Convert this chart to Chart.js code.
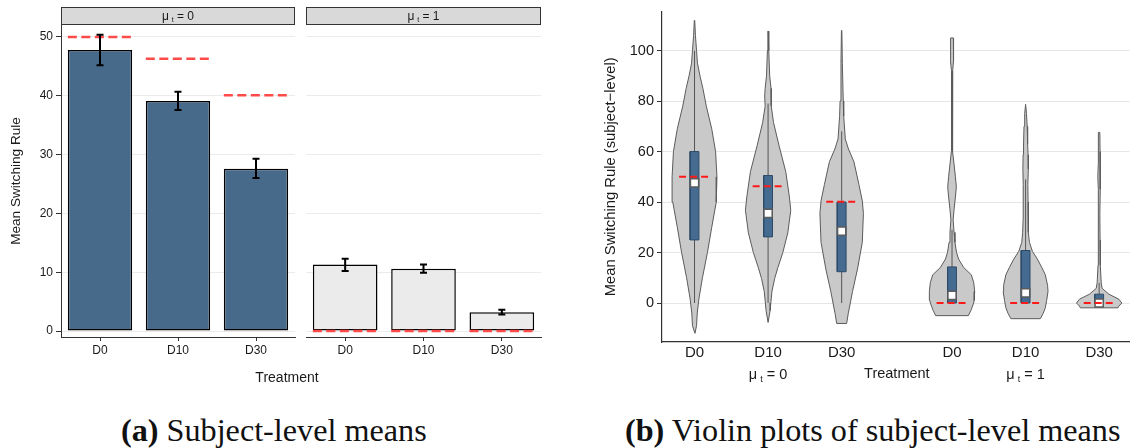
<!DOCTYPE html>
<html>
<head>
<meta charset="utf-8">
<script src="https://cdn.jsdelivr.net/npm/chart.js@4.4.1/dist/chart.umd.min.js"></script>
<style>
  body { margin: 0; background: #fff; width: 1137px; height: 448px; overflow: hidden; position: relative;
         font-family: "Liberation Sans", Arial, sans-serif; color: #1a1a1a; }
  .holder { position: absolute; }
  .xlab { position: absolute; font-size: 14px; transform: translate(-50%, -50%); white-space: nowrap; }
  .cap { position: absolute; top: 414px; font-family: "Liberation Serif", "Times New Roman", serif;
         font-size: 32.2px; line-height: 1; white-space: nowrap; color: #111; }
</style>
</head>
<body>
<div class="holder" style="left:0;top:0;width:300px;height:400px"><canvas id="facet0"></canvas></div>
<div class="holder" style="left:300px;top:0;width:245px;height:400px"><canvas id="facet1"></canvas></div>
<div class="holder" style="left:580px;top:0;width:557px;height:400px"><canvas id="violins"></canvas></div>
<div class="xlab" style="left:287px;top:377px">Treatment</div>
<div class="cap" style="left:121px"><b>(a)</b> Subject-level means</div>
<div class="cap" style="left:625px"><b>(b)</b> Violin plots of subject-level means</div>

<script>
// ---- panel (a): subject-level means ----
const treatments = ['D0', 'D10', 'D30'];
const meanMu0 = [47.8, 39.1, 27.6];
const errLowMu0 = [45.2, 37.6, 26.0];
const errHighMu0 = [50.4, 40.7, 29.3];
const predMu0 = [50, 46.3, 40.1];
const meanMu1 = [11.3, 10.6, 3.2];
const errLowMu1 = [10.2, 9.9, 2.8];
const errHighMu1 = [12.3, 11.3, 3.6];
const predMu1 = [0, 0, 0];
const yTicksA = [0, 10, 20, 30, 40, 50];

// ---- panel (b): violins ----
const violinLabels = ['D0', 'D10', 'D30', 'D0', 'D10', 'D30'];
const violinPos = [1, 2, 3, 4.5, 5.5, 6.5];
const groupLabels = ['0', '1'];      // mu_t value
const groupCenters = [2, 5.5];
const yTicksB = [0, 20, 40, 60, 80, 100];

// y levels and relative density (0..1) of each violin outline
const violinY = [
  [112, 106, 100, 95, 90, 85, 78, 69, 60, 50, 40, 30, 20, 10, 2, -4, -9, -12],
  [107.7, 100, 90, 85, 82, 78, 71.5, 62.5, 52, 42, 36.7, 27.8, 20, 14, 9.7, 4.6, 0, -3, -7.7],
  [108, 95, 80, 74, 65, 61, 56, 47, 40.5, 35.5, 24, 13.5, 4.6, -4.2, -8.1],
  [105, 103, 100, 96, 92, 85, 70, 60, 55, 50, 46, 42, 37, 33, 28, 24, 20, 17.4, 14, 11.2, 8, 4.6, 1, -0.4, -3, -5],
  [78.7, 75, 70, 63, 58.7, 53, 47, 40, 33, 28, 24, 20.5, 17.4, 14, 11.2, 7, 4.6, 1, -1.9, -4, -6.2],
  [67.6, 60, 55, 50, 45, 35, 25, 15, 8, 5.8, 3.5, 1.5, 0, -1.2, -1.9]
];
const violinDensity = [
  [0.01, 0.04, 0.09, 0.13, 0.24, 0.37, 0.52, 0.76, 0.93, 0.99, 0.96, 0.76, 0.57, 0.35, 0.2, 0.12, 0.09, 0.02],
  [0.01, 0.03, 0.07, 0.13, 0.15, 0.13, 0.24, 0.48, 0.78, 0.94, 1, 0.87, 0.65, 0.43, 0.29, 0.17, 0.12, 0.09, 0],
  [0.01, 0.03, 0.07, 0.09, 0.16, 0.3, 0.54, 0.76, 0.91, 0.96, 0.91, 0.7, 0.48, 0.29, 0.22],
  [0.06, 0.06, 0.07, 0.07, 0.03, 0.02, 0.02, 0.03, 0.09, 0.15, 0.19, 0.15, 0.09, 0.05, 0.09, 0.13, 0.2, 0.29, 0.52, 0.85, 0.96, 1, 0.98, 0.94, 0.83, 0.72],
  [0, 0.04, 0.07, 0.09, 0.11, 0.12, 0.1, 0.11, 0.11, 0.13, 0.17, 0.3, 0.52, 0.72, 0.87, 0.97, 0.99, 0.93, 0.87, 0.78, 0.65],
  [0.03, 0.04, 0.04, 0.06, 0.04, 0.03, 0.04, 0.05, 0.09, 0.13, 0.43, 0.87, 1, 0.87, 0.83]
];
const boxQ1 = [25, 26.2, 12.4, 0, 0, -0.3];
const boxQ3 = [60, 50.5, 40, 14.3, 20.8, 3.5];
const medians = [47.6, 35.5, 28.5, 3, 4, 0];
const whiskLow = [0, 0, 0, 0, 0, 0];
const whiskHigh = [100, 79, 68, 29, 49, 8];
const predicted = [50, 46.3, 40.1, 0, 0, 0];

const FONT = '"Liberation Sans", Arial, sans-serif';
Chart.defaults.font.family = FONT;
Chart.defaults.color = '#1a1a1a';

// draws "mu_t = v" centred on (cx, cy)
function drawMu(ctx, value, cx, cy, size) {
  const big = size + 'px ' + FONT, small = Math.round(size * 0.62) + 'px ' + FONT;
  ctx.save();
  ctx.fillStyle = '#1a1a1a';
  ctx.textAlign = 'left';
  ctx.textBaseline = 'alphabetic';
  ctx.font = big;
  const wMu = ctx.measureText('\u03bc').width;
  const rest = ' = ' + value;
  const wRest = ctx.measureText(rest).width;
  ctx.font = small;
  const wSub = ctx.measureText('t').width;
  const gap = size * 0.22;
  let x = cx - (wMu + gap + wSub + wRest) / 2;
  const base = cy + size * 0.36;
  ctx.font = big; ctx.fillText('\u03bc', x, base); x += wMu + gap;
  ctx.font = small; ctx.fillText('t', x, base + size * 0.18); x += wSub;
  ctx.font = big; ctx.fillText(rest, x, base);
  ctx.restore();
}

// error bars, prediction lines and the facet strip
const facetPlugin = {
  id: 'facet',
  afterDatasetsDraw(chart, args, opts) {
    const ctx = chart.ctx, y = chart.scales.y;
    const bars = chart.getDatasetMeta(0).data;
    ctx.save();
    // red dashed predictions
    ctx.strokeStyle = '#ff4a4a';
    ctx.lineWidth = 2.6;
    ctx.setLineDash([9, 4.5]);
    bars.forEach((b, i) => {
      const py = y.getPixelForValue(opts.pred[i]);
      ctx.beginPath();
      ctx.moveTo(b.x - b.width / 2, py);
      ctx.lineTo(b.x + b.width / 2, py);
      ctx.stroke();
    });
    // error bars
    ctx.setLineDash([]);
    ctx.strokeStyle = '#000';
    ctx.lineWidth = 2;
    bars.forEach((b, i) => {
      const lo = y.getPixelForValue(opts.low[i]), hi = y.getPixelForValue(opts.high[i]);
      ctx.beginPath();
      ctx.moveTo(b.x, lo); ctx.lineTo(b.x, hi);
      ctx.moveTo(b.x - 3.5, lo); ctx.lineTo(b.x + 3.5, lo);
      ctx.moveTo(b.x - 3.5, hi); ctx.lineTo(b.x + 3.5, hi);
      ctx.stroke();
    });
    ctx.restore();
  },
  afterDraw(chart, args, opts) {
    const ctx = chart.ctx, a = chart.chartArea;
    ctx.save();
    ctx.fillStyle = '#d9d9d9';
    ctx.strokeStyle = '#333';
    ctx.lineWidth = 1;
    ctx.fillRect(a.left, 7, a.right - a.left, a.top - 7);
    ctx.strokeRect(a.left + 0.5, 7.5, a.right - a.left - 1, a.top - 8);
    ctx.restore();
    drawMu(ctx, opts.mu, (a.left + a.right) / 2, 16, 12);
  }
};

function facetChart(id, means, lows, highs, preds, fill, mu, showY) {
  return new Chart(document.getElementById(id), {
    type: 'bar',
    data: {
      labels: treatments,
      datasets: [{
        data: means,
        backgroundColor: fill,
        borderColor: '#000',
        borderWidth: 1.5,
        borderSkipped: false,
        barPercentage: 0.825,
        categoryPercentage: 1
      }]
    },
    options: {
      animation: false,
      responsive: true,
      maintainAspectRatio: false,
      events: [],
      layout: { padding: { top: 25, right: showY ? 5 : 4, left: showY ? 0 : 6, bottom: 0 } },
      plugins: {
        legend: { display: false },
        tooltip: { enabled: false },
        facet: { low: lows, high: highs, pred: preds, mu: mu }
      },
      scales: {
        x: {
          grid: { display: true, drawOnChartArea: false, offset: false, tickLength: 4, tickColor: '#333' },
          border: { color: '#333', width: 1 },
          ticks: { font: { size: 12 }, color: '#1a1a1a', padding: 2, maxRotation: 0 },
          afterFit: s => { s.height = 63; }
        },
        y: {
          min: -1.02,
          max: 52.04,
          afterBuildTicks: s => { s.ticks = yTicksA.map(v => ({ value: v })); },
          afterFit: s => { s.width = showY ? 61 : 0; },
          border: { display: showY, color: '#333', width: 1 },
          grid: { color: '#ebebeb', lineWidth: 1, drawTicks: showY, tickLength: 5, tickColor: '#333' },
          ticks: { display: showY, font: { size: 12 }, color: '#1a1a1a', padding: 3 },
          title: { display: showY, text: 'Mean Switching Rule', font: { size: 13.6 }, color: '#1a1a1a', padding: { top: 8, bottom: 0 } }
        }
      }
    },
    plugins: [facetPlugin]
  });
}

facetChart('facet0', meanMu0, errLowMu0, errHighMu0, predMu0, '#476a8b', '0', true);
facetChart('facet1', meanMu1, errLowMu1, errHighMu1, predMu1, '#ebebeb', '1', false);

// ---- violin chart ----
const violinHalfMax = 0.308, boxHalf = 0.06, predHalf = 0.21;
const datasets = [];
violinPos.forEach((c, i) => {
  const ys = violinY[i], ds = violinDensity[i];
  const right = ys.map((y, k) => ({ x: c + ds[k] * violinHalfMax, y: y }));
  const left = ys.map((y, k) => ({ x: c - ds[k] * violinHalfMax, y: y })).reverse();
  datasets.push({
    data: right.concat(left, [right[0]]), showLine: true, fill: 'shape', tension: 0,
    backgroundColor: '#c9c9c9', borderColor: '#5b5b5b', borderWidth: 1, pointRadius: 0, order: 5
  });
  datasets.push({
    data: [{ x: c, y: whiskLow[i] }, { x: c, y: whiskHigh[i] }], showLine: true, fill: false,
    borderColor: '#555', borderWidth: 1, pointRadius: 0, order: 4
  });
  datasets.push({
    data: [{ x: c - boxHalf, y: boxQ1[i] }, { x: c + boxHalf, y: boxQ1[i] }, { x: c + boxHalf, y: boxQ3[i] },
           { x: c - boxHalf, y: boxQ3[i] }, { x: c - boxHalf, y: boxQ1[i] }],
    showLine: true, fill: 'shape', backgroundColor: '#456b90', borderColor: '#2d4b69', borderWidth: 1,
    pointRadius: 0, order: 3
  });
  datasets.push({
    data: [{ x: c - predHalf, y: predicted[i] }, { x: c + predHalf, y: predicted[i] }], showLine: true, fill: false,
    borderColor: '#ff1a1a', borderWidth: 2, borderDash: [7, 4], pointRadius: 0, order: 1
  });
});
datasets.push({
  data: violinPos.map((c, i) => ({ x: c, y: medians[i] })), showLine: false,
  pointStyle: 'rect', pointRadius: 5.8, backgroundColor: '#fff', borderColor: '#5b5b5b', borderWidth: 1.5, order: 2
});

const groupPlugin = {
  id: 'groups',
  afterDraw(chart) {
    const ctx = chart.ctx, x = chart.scales.x;
    groupLabels.forEach((g, i) => drawMu(ctx, g, x.getPixelForValue(groupCenters[i]), 374, 14.5));
    ctx.save();
    ctx.font = '14.5px ' + FONT;
    ctx.fillStyle = '#1a1a1a';
    ctx.textAlign = 'center';
    ctx.textBaseline = 'middle';
    ctx.fillText('Treatment', x.getPixelForValue((groupCenters[0] + groupCenters[1]) / 2), 374);
    ctx.restore();
  }
};

new Chart(document.getElementById('violins'), {
  type: 'scatter',
  data: { datasets: datasets },
  options: {
    animation: false,
    responsive: true,
    maintainAspectRatio: false,
    events: [],
    layout: { padding: { top: 3, right: 0, bottom: 0, left: 0 } },
    plugins: { legend: { display: false }, tooltip: { enabled: false } },
    scales: {
      x: {
        type: 'linear',
        min: 0.558,
        max: 6.915,
        afterBuildTicks: s => { s.ticks = violinPos.map(v => ({ value: v })); },
        afterFit: s => { s.height = 58; },
        grid: { display: false, drawTicks: false },
        border: { color: '#333', width: 1.2 },
        ticks: {
          autoSkip: false, maxRotation: 0, padding: 2, font: { size: 15 }, color: '#1a1a1a',
          callback: v => violinLabels[violinPos.indexOf(v)]
        }
      },
      y: {
        min: -15.44,
        max: 115.4,
        afterBuildTicks: s => { s.ticks = yTicksB.map(v => ({ value: v })); },
        afterFit: s => { s.width = 82; },
        border: { color: '#333', width: 1.2 },
        grid: { color: '#e6e6e6', lineWidth: 1, tickLength: 5, tickColor: '#333' },
        ticks: { font: { size: 14.5 }, color: '#1a1a1a', padding: 3 },
        title: { display: true, text: 'Mean Switching Rule (subject\u2212level)', font: { size: 14.8 }, color: '#1a1a1a',
                 padding: { top: 22.2, bottom: 0 } }
      }
    }
  },
  plugins: [groupPlugin]
});
</script>
</body>
</html>
